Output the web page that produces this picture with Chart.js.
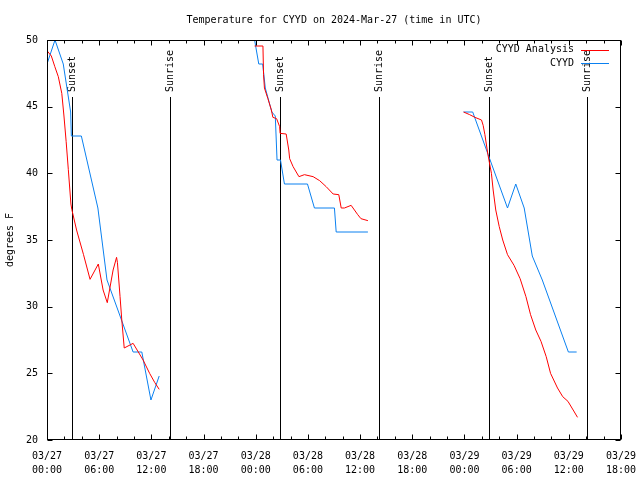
<!DOCTYPE html>
<html><head><meta charset="utf-8">
<script src="https://cdn.jsdelivr.net/npm/chart.js@4/dist/chart.umd.min.js"></script>
<style>html,body{margin:0;padding:0;background:#fff}canvas{display:block}</style>
</head><body>
<canvas id="c" width="640" height="480"></canvas>
<script>
// ---------- data ----------
const titleText = 'Temperature for CYYD on 2024-Mar-27 (time in UTC)';
const yAxisTitle = 'degrees F';
const seriesNames = ['CYYD Analysis', 'CYYD'];
// x tick labels every 6 hours (hours since 03/27 00:00 UTC)
const xTickDates = ['03/27','03/27','03/27','03/27','03/28','03/28','03/28','03/28','03/29','03/29','03/29','03/29'];
const xTickTimes = ['00:00','06:00','12:00','18:00','00:00','06:00','12:00','18:00','00:00','06:00','12:00','18:00'];
// analysis (red)
const analysisHours = [0,0.5,0.9,1.3,1.7,1.95,2.2,2.45,2.75,2.85,3.4,4.2,4.95,5.9,6.45,6.93,7.6,8.0,8.1,8.4,8.6,8.88,9.9,10.5,11.05,11.8,12.4,12.9,
  18,
  23.87,24.83,24.9,25.0,25.4,25.8,25.97,26.4,26.75,26.8,27.5,27.8,27.9,28.3,28.97,29.6,30.6,31.35,32.1,32.9,33.55,33.83,34.2,34.97,35.73,36.1,36.9,
  42,
  47.9,48.6,49.2,49.96,50.15,50.35,50.7,51.1,51.3,51.6,52.0,52.4,52.95,53.7,54.4,55.07,55.6,56.2,56.8,57.4,57.9,58.7,59.3,59.9,60.5,61.0];
const analysisTemps = [49.2,48.8,48.0,47.25,46.0,44.3,42.4,40.3,37.7,37.3,35.75,33.9,32.05,33.2,31.25,30.3,32.75,33.7,33.3,30.75,29.0,26.9,27.25,26.6,26.0,25.0,24.3,23.8,
  null,
  49.55,49.55,47.4,46.4,45.6,44.75,44.2,44.1,43.5,43.0,42.95,41.75,41.1,40.5,39.75,39.9,39.75,39.45,39.0,38.45,38.4,37.4,37.4,37.6,36.9,36.6,36.45,
  null,
  44.6,44.4,44.2,44.0,43.6,42.9,41.4,40.0,38.75,37.25,36.0,35.0,33.9,33.1,32.1,30.75,29.4,28.25,27.4,26.25,25.0,23.9,23.25,22.9,22.25,21.7];
// observations (blue)
const obsHours = [0,0.92,1.87,2.72,2.8,3.95,5.85,6.9,7.9,8.9,9.9,10.9,11.95,12.9,
  18,
  23.87,24.35,24.8,25.1,25.85,26.25,26.45,26.85,27.3,29.95,30.75,33.05,33.25,36.9,
  42,
  47.9,48.95,52.95,53.9,54.87,55.8,56.95,57.95,58.95,59.95,60.9];
const obsTemps = [48.2,50.0,48.2,44.6,42.8,42.8,37.4,32.0,30.2,28.4,26.6,26.6,23.0,24.8,
  null,
  50.0,48.2,48.2,46.4,44.6,44.3,41.0,41.0,39.2,39.2,37.4,37.4,35.6,35.6,
  null,
  44.6,44.6,37.4,39.2,37.4,33.8,32.0,30.2,28.4,26.6,26.6];
// sunrise / sunset markers
const sunHours = [2.83,14.2,26.82,38.15,50.77,62.13];
const sunLabels = ['Sunset','Sunrise','Sunset','Sunrise','Sunset','Sunrise'];

// ---------- style ----------
const FAMILY = '"DejaVu Sans Mono", monospace';
const FONT = '10px ' + FAMILY;
const colors = ['#ff0000', '#0a80f0'];

const toXY = (xs, ys) => xs.map((v, i) => ({x: v, y: ys[i]}));

const gp = {
  id: 'gp',
  beforeDatasetsDraw(chart) {
    const {ctx, chartArea: a, scales: {x}} = chart;
    ctx.save();
    ctx.strokeStyle = '#000'; ctx.lineWidth = 1;
    ctx.fillStyle = '#000'; ctx.font = FONT;
    sunHours.forEach((h, i) => {
      const px = Math.round(x.getPixelForValue(h)) + 0.5;
      ctx.beginPath(); ctx.moveTo(px, a.top + 57); ctx.lineTo(px, a.bottom); ctx.stroke();
      ctx.save();
      ctx.translate(px, a.top + 52); ctx.rotate(-Math.PI / 2);
      ctx.textAlign = 'left'; ctx.textBaseline = 'middle';
      ctx.fillText(sunLabels[i], 0, 0);
      ctx.restore();
    });
    ctx.restore();
  },
  afterDatasetsDraw(chart) {
    const {ctx, chartArea: a, scales: {x, y}} = chart;
    ctx.save();
    ctx.strokeStyle = '#000'; ctx.lineWidth = 1;
    const L = Math.round(a.left) + 0.5, R = Math.round(a.right) - 0.5;
    const T = Math.round(a.top) + 0.5, B = Math.round(a.bottom) - 0.5;
    ctx.strokeRect(L, T, R - L, B - T);
    ctx.beginPath();
    x.ticks.forEach(t => {
      const px = Math.round(x.getPixelForValue(t.value)) + 0.5;
      const len = (t.value % 6 === 0) ? 5 : 3;
      ctx.moveTo(px, B); ctx.lineTo(px, B - len);
      ctx.moveTo(px, T); ctx.lineTo(px, T + len);
    });
    y.ticks.forEach(t => {
      const py = Math.round(y.getPixelForValue(t.value)) + 0.5;
      ctx.moveTo(L, py); ctx.lineTo(L + 5, py);
      ctx.moveTo(R, py); ctx.lineTo(R - 5, py);
    });
    ctx.stroke();
    // legend
    ctx.font = FONT; ctx.fillStyle = '#000';
    ctx.textAlign = 'right'; ctx.textBaseline = 'middle';
    seriesNames.forEach((n, i) => {
      const ly = a.top + 9.5 + i * 13.5;
      ctx.fillText(n, a.right - 47, ly);
      ctx.strokeStyle = colors[i];
      ctx.beginPath(); ctx.moveTo(a.right - 40, Math.round(ly) + 0.5); ctx.lineTo(a.right - 12, Math.round(ly) + 0.5); ctx.stroke();
    });
    ctx.restore();
  }
};

new Chart(document.getElementById('c'), {
  type: 'line',
  data: {
    datasets: [
      {label: seriesNames[0], data: toXY(analysisHours, analysisTemps), borderColor: colors[0], borderWidth: 1, pointRadius: 0, tension: 0, spanGaps: false},
      {label: seriesNames[1], data: toXY(obsHours, obsTemps), borderColor: colors[1], borderWidth: 1, pointRadius: 0, tension: 0, spanGaps: false}
    ]
  },
  options: {
    responsive: false, animation: false,
    layout: {padding: {left: 0, right: 19, top: 0, bottom: 0}},
    plugins: {
      legend: {display: false},
      tooltip: {enabled: false},
      title: {display: true, text: titleText, fullSize: false, color: '#000',
        font: {family: FAMILY, size: 10, weight: 'normal', lineHeight: 1.2},
        padding: {top: 14, bottom: 14}}
    },
    scales: {
      x: {
        type: 'linear', min: 0, max: 66,
        grid: {display: false, drawTicks: false, tickLength: 0}, border: {display: false},
        afterFit: s => { s.height = 40; s.paddingLeft = 0; s.paddingRight = 0; },
        ticks: {
          stepSize: 2, autoSkip: false, maxRotation: 0, minRotation: 0, padding: 9,
          color: '#000', font: {family: FAMILY, size: 10, lineHeight: 1.4},
          callback: v => (v % 6 === 0) ? [xTickDates[v / 6], xTickTimes[v / 6]] : ''
        }
      },
      y: {
        min: 20, max: 50,
        grid: {display: false, drawTicks: false, tickLength: 0}, border: {display: false},
        afterFit: s => { s.width = 47; s.paddingTop = 0; s.paddingBottom = 0; },
        title: {display: true, text: yAxisTitle, color: '#000', padding: {top: 4, bottom: 0},
          font: {family: FAMILY, size: 10, lineHeight: 1.2}},
        ticks: {stepSize: 5, padding: 9, color: '#000', font: {family: FAMILY, size: 10}}
      }
    }
  },
  plugins: [gp]
});
</script>
</body></html>
